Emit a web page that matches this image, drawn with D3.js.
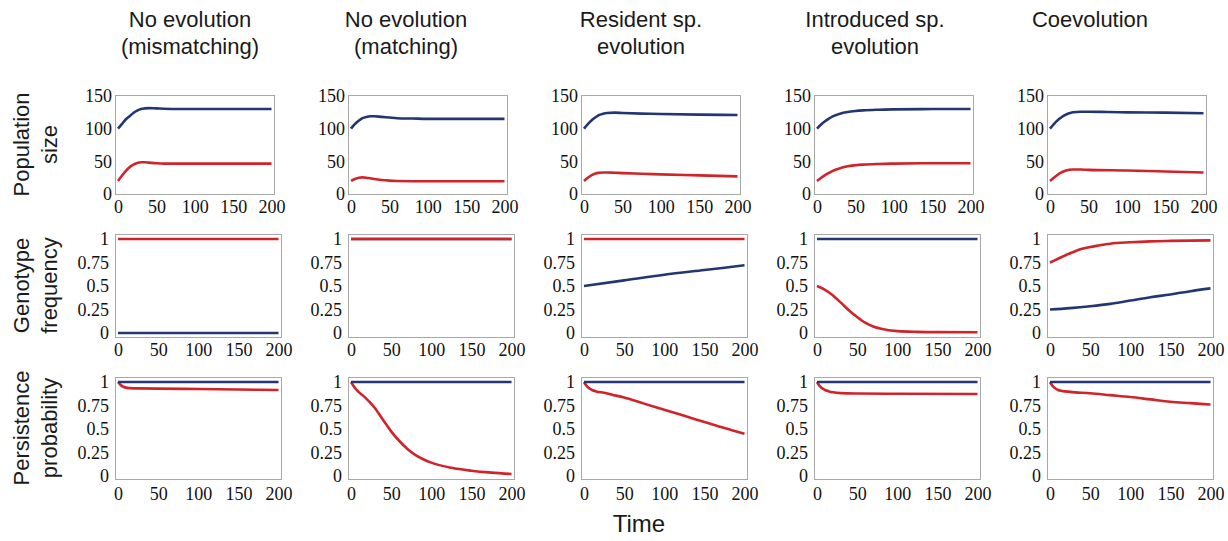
<!DOCTYPE html>
<html>
<head>
<meta charset="utf-8">
<script src="https://cdn.jsdelivr.net/npm/d3@7"></script>
<style>
  html, body { margin: 0; padding: 0; background: #fff; }
  svg { display: block; }
  .title, .rowlab { font-family: "Liberation Sans", Arial, sans-serif; font-size: 22px; fill: #1a1a1a; }
  .xlab { font-family: "Liberation Sans", Arial, sans-serif; font-size: 24px; fill: #1a1a1a; }
</style>
</head>
<body>
<svg id="chart" width="1228" height="541"></svg>
<script>
// Column headings (two lines each) and row headings
const columnTitles = [
  ["No evolution", "(mismatching)"],
  ["No evolution", "(matching)"],
  ["Resident sp.", "evolution"],
  ["Introduced sp.", "evolution"],
  ["Coevolution"]
];
const rowTitles = [["Population", "size"], ["Genotype", "frequency"], ["Persistence", "probability"]];
const timeLabel = "Time";

// Tick values
const timeTicks = [0, 50, 100, 150, 200];
const popTicks = [0, 50, 100, 150];
const probTicks = [0, 0.25, 0.5, 0.75, 1];

// Population size: [time, size]
const popMismatchBlue = [[0,100],[5,107],[10,114],[15,119],[20,124],[25,127.5],[30,130],[35,131],[40,131.5],[50,131],[60,130.5],[80,130],[100,130],[150,130],[200,130]];
const popMismatchRed  = [[0,20],[5,28],[10,35],[15,41],[20,45],[25,47.5],[30,48.5],[35,48.5],[40,48],[50,47],[60,46.5],[80,46.5],[100,46.5],[150,46.5],[200,46.5]];
const popMatchBlue    = [[0,100],[5,107],[10,112],[15,116],[20,118],[25,119],[30,119],[40,118],[50,117],[60,116],[80,115.5],[100,115],[150,115],[200,115]];
const popMatchRed     = [[0,20],[5,23],[10,25],[15,25.5],[20,25],[25,24],[30,23],[40,21.5],[50,20.5],[60,20],[100,19.5],[150,19.5],[200,19.5]];
const popResidentBlue = [[0,100],[5,107],[10,113],[15,117.5],[20,121],[25,123],[30,124],[40,124.5],[50,124],[75,123],[100,122.5],[150,121.5],[200,121]];
const popResidentRed  = [[0,20],[5,25],[10,29],[15,31.5],[20,32.5],[25,33],[30,33],[40,32.5],[50,32],[75,31],[100,30],[150,28.5],[200,27]];
const popIntroBlue    = [[0,100],[5,106],[10,111],[15,115],[20,118.5],[25,121],[30,123],[40,125.5],[50,127],[60,128],[80,129],[100,129.5],[150,130],[200,130]];
const popIntroRed     = [[0,20],[5,24.5],[10,28.5],[15,32],[20,35],[25,37.5],[30,39.5],[40,42.5],[50,44],[60,45],[80,46],[100,46.5],[150,47],[200,47]];
const popCoevoBlue    = [[0,100],[5,107],[10,113],[15,117.5],[20,121],[25,123.5],[30,125],[40,126],[50,126],[75,125.5],[100,125],[150,124.5],[200,123.5]];
const popCoevoRed     = [[0,20],[5,25],[10,29.5],[15,33],[20,35.5],[25,37],[30,37.5],[40,37.5],[50,37],[100,36],[150,34.5],[200,33]];

// Genotype frequency: [time, frequency]
const freqMismatchBlue = [[0,0],[200,0]];
const freqMismatchRed  = [[0,1],[200,1]];
const freqMatchBlue    = [[0,1],[200,1]];
const freqMatchRed     = [[0,1],[200,1]];
const freqResidentBlue = [[0,0.5],[50,0.56],[100,0.62],[150,0.67],[200,0.72]];
const freqResidentRed  = [[0,1],[200,1]];
const freqIntroBlue    = [[0,1],[200,1]];
const freqIntroRed     = [[0,0.5],[10,0.46],[20,0.4],[30,0.32],[40,0.24],[50,0.17],[60,0.11],[70,0.07],[80,0.045],[100,0.02],[125,0.012],[150,0.009],[200,0.008]];
const freqCoevoBlue    = [[0,0.25],[25,0.265],[50,0.285],[75,0.31],[100,0.345],[125,0.38],[150,0.41],[175,0.445],[200,0.475]];
const freqCoevoRed     = [[0,0.75],[10,0.79],[20,0.83],[30,0.865],[40,0.895],[50,0.915],[60,0.93],[75,0.95],[100,0.965],[125,0.975],[150,0.98],[200,0.985]];

// Persistence probability: [time, probability]
const persMismatchBlue = [[0,1],[200,1]];
const persMismatchRed  = [[0,1],[3,0.97],[6,0.952],[10,0.94],[15,0.935],[25,0.932],[50,0.93],[100,0.925],[150,0.92],[200,0.915]];
const persMatchBlue    = [[0,1],[200,1]];
const persMatchRed     = [[0,1],[3,0.96],[6,0.925],[10,0.89],[15,0.855],[20,0.815],[25,0.77],[30,0.72],[35,0.66],[40,0.595],[45,0.535],[50,0.475],[60,0.375],[70,0.29],[80,0.225],[90,0.178],[100,0.142],[125,0.087],[150,0.056],[175,0.036],[200,0.022]];
const persResidentBlue = [[0,1],[200,1]];
const persResidentRed  = [[0,1],[3,0.96],[6,0.935],[10,0.915],[15,0.9],[25,0.885],[35,0.865],[50,0.835],[75,0.77],[100,0.705],[125,0.64],[150,0.575],[175,0.51],[200,0.45]];
const persIntroBlue    = [[0,1],[200,1]];
const persIntroRed     = [[0,1],[3,0.96],[6,0.935],[10,0.915],[15,0.9],[20,0.89],[30,0.882],[50,0.878],[100,0.875],[200,0.872]];
const persCoevoBlue    = [[0,1],[200,1]];
const persCoevoRed     = [[0,1],[3,0.96],[6,0.935],[10,0.915],[15,0.905],[25,0.895],[50,0.88],[75,0.86],[100,0.84],[125,0.815],[150,0.79],[175,0.775],[200,0.76]];

const blue = "#243672";
const red = "#d1232a";
const tickFont = "'Liberation Serif', 'DejaVu Serif', 'Times New Roman', serif";

// Rows of panels: each panel holds [blueSeries, redSeries]
const popPanels  = [[popMismatchBlue, popMismatchRed], [popMatchBlue, popMatchRed], [popResidentBlue, popResidentRed], [popIntroBlue, popIntroRed], [popCoevoBlue, popCoevoRed]];
const freqPanels = [[freqMismatchBlue, freqMismatchRed], [freqMatchBlue, freqMatchRed], [freqResidentBlue, freqResidentRed], [freqIntroBlue, freqIntroRed], [freqCoevoBlue, freqCoevoRed]];
const persPanels = [[persMismatchBlue, persMismatchRed], [persMatchBlue, persMatchRed], [persResidentBlue, persResidentRed], [persIntroBlue, persIntroRed], [persCoevoBlue, persCoevoRed]];

const svg = d3.select("#chart");

// Layout of the grid
const colLeft = [115, 348, 581, 814, 1047];
const titleX = [190, 406, 641, 875, 1090];
const rows = [
  { panels: popPanels,  ticks: popTicks,  domain: [0, 150], top: 95,  bottom: 194, y0: 194, y1: 96,  width: 159, labGap: 3, xGap: 6, redOnTop: true },
  { panels: freqPanels, ticks: probTicks, domain: [0, 1],   top: 234, bottom: 337, y0: 333, y1: 239, width: 166, labGap: 6, xGap: 6, redOnTop: true },
  { panels: persPanels, ticks: probTicks, domain: [0, 1],   top: 377, bottom: 479, y0: 476, y1: 382, width: 166, labGap: 6, xGap: 8, redOnTop: false }
];

// Column titles
columnTitles.forEach((lines, c) => {
  const t = svg.append("text").attr("class", "title").attr("text-anchor", "middle");
  lines.forEach((ln, i) => t.append("tspan").attr("x", titleX[c]).attr("y", 27 + i * 27).text(ln));
});

// Row titles (rotated)
rows.forEach((r, ri) => {
  const cy = (r.top + r.bottom) / 2;
  rowTitles[ri].forEach((ln, i) => {
    svg.append("text").attr("class", "rowlab")
      .attr("text-anchor", "middle")
      .attr("transform", `translate(${29 + i * 28},${cy}) rotate(-90)`)
      .text(ln);
  });
});

rows.forEach((r) => {
  r.panels.forEach((series, c) => {
    const left = colLeft[c];
    const right = left + r.width;
    const x = d3.scaleLinear().domain([0, 200]).range([left + 3, right - 2.5]);
    const y = d3.scaleLinear().domain(r.domain).range([r.y0, r.y1]);
    const g = svg.append("g");

    // frame
    g.append("rect")
      .attr("x", left + 0.5).attr("y", r.top + 0.5)
      .attr("width", r.width).attr("height", r.bottom - r.top)
      .attr("fill", "none").attr("stroke", "#a8a8a8").attr("stroke-width", 1);

    // axes (labels only)
    const styleAxis = a => {
      a.select(".domain").remove();
      a.attr("font-family", tickFont).attr("font-size", 18);
      a.selectAll("text").attr("fill", "#111").style("font-family", tickFont).style("font-size", "18px");
    };
    const yAxis = d3.axisLeft(y).tickValues(r.ticks).tickSize(0).tickPadding(r.labGap)
      .tickFormat(d => String(d));
    g.append("g").attr("transform", `translate(${left},0)`).call(yAxis).call(styleAxis);
    const xAxis = d3.axisBottom(x).tickValues(timeTicks).tickSize(0).tickPadding(r.xGap)
      .tickFormat(d => String(d));
    g.append("g").attr("transform", `translate(0,${r.bottom})`).call(xAxis).call(styleAxis);

    const line = d3.line().x(d => x(d[0])).y(d => y(d[1])).curve(d3.curveMonotoneX);
    const order = r.redOnTop ? [[series[0], blue], [series[1], red]] : [[series[1], red], [series[0], blue]];
    order.forEach(([data, col]) => {
      g.append("path").datum(data)
        .attr("fill", "none").attr("stroke", col)
        .attr("stroke-width", 2.6).attr("stroke-linejoin", "round")
        .attr("d", line);
    });
  });
});

// Shared x-axis title
svg.append("text").attr("class", "xlab").attr("text-anchor", "middle")
  .attr("x", 639).attr("y", 532).text(timeLabel);
</script>
</body>
</html>
